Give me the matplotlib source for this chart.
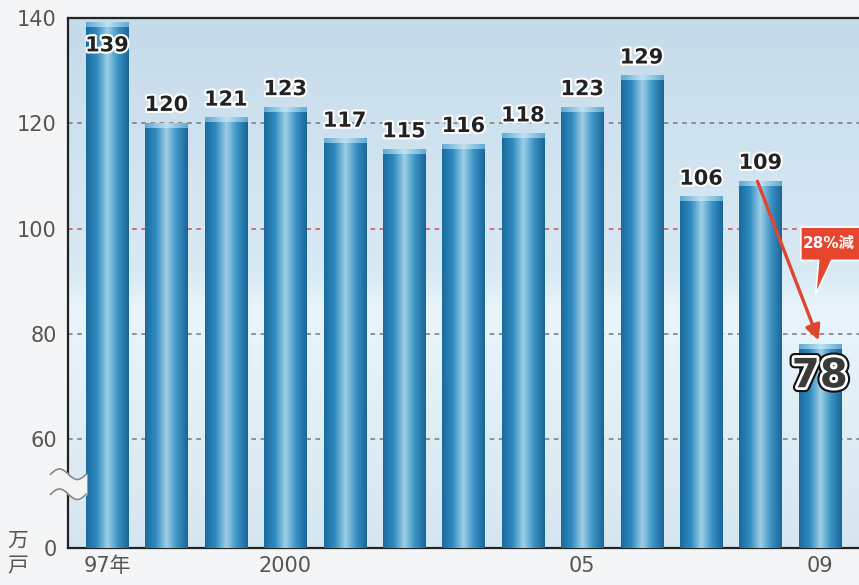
import numpy as np
import matplotlib.pyplot as plt
import matplotlib.patheffects as pe
from matplotlib.colors import LinearSegmentedColormap
from matplotlib.patches import Polygon

plt.rcParams['font.family'] = ['DejaVu Sans', 'Noto Sans CJK JP']

# 新設住宅着工戸数 (万戸)
years = ['97年', '98', '99', '2000', '01', '02', '03', '04', '05', '06', '07', '08', '09']
starts = [139, 120, 121, 123, 117, 115, 116, 118, 123, 129, 106, 109, 78]
shown_years = {0: '97年', 3: '2000', 8: '05', 12: '09'}
ytick_vals = [60, 80, 100, 120, 140]
drop_label = '28%減'

y_floor = 39.4   # axis break: bottom of the axis is labelled 0

fig = plt.figure(figsize=(8.59, 5.85), dpi=100, facecolor='#f3f5f6')
ax = fig.add_axes([68 / 859, 37 / 585, 1 - 68 / 859, 530 / 585])

# background gradient with a pale band in the middle
bg = LinearSegmentedColormap.from_list('bg', [(0, '#d6e6f0'), (0.45, '#e9f5fb'),
                                              (0.52, '#d8eaf4'), (1, '#c6dbea')])
ax.imshow(np.linspace(0, 1, 256).reshape(-1, 1), extent=[0, 1, 0, 1], transform=ax.transAxes,
          cmap=bg, aspect='auto', zorder=0, origin='lower')

x = np.arange(len(starts))
ax.set_ylim(y_floor, 140)

# dashed grid lines behind the bars
for v in ytick_vals[:-1]:
    ax.axhline(v, color='#d05050' if v == 100 else '#777777', lw=1.1,
               ls=(0, (3, 3)), zorder=1)

bars = ax.bar(x, np.array(starts) - y_floor, bottom=y_floor, width=0.71,
              color='#2b83b6', zorder=2)

# cylinder-like shading on each bar
shade = LinearSegmentedColormap.from_list('shade', ['#1b6a9c', '#2f8bc0', '#9fcfe6',
                                                    '#3a93c4', '#1a6597'])
cap = LinearSegmentedColormap.from_list('cap', ['#5fa9d3', '#bfe2f2', '#5fa9d3'])
grad = np.linspace(0, 1, 128).reshape(1, -1)
for b in bars:
    x0, w = b.get_x(), b.get_width()
    top = b.get_y() + b.get_height()
    ax.imshow(grad, extent=[x0, x0 + w, b.get_y(), top], cmap=shade, aspect='auto', zorder=3)
    ax.imshow(grad, extent=[x0, x0 + w, top - 0.8, top], cmap=cap, aspect='auto', zorder=3)
ax.set_xlim(-0.657, 12.66)

# value labels
outline = [pe.Stroke(linewidth=3, foreground='white'), pe.Normal()]
for i, v in enumerate(starts[:-1]):
    yy = v - 4.2 if v > 135 else v + 3.5
    ax.text(i, yy, str(v), ha='center', va='center', fontsize=15, fontweight='bold',
            color='#222222', path_effects=outline, zorder=6)

ax.text(x[-1], starts[-1] - 6, str(starts[-1]), ha='center', va='center',
        fontsize=29, fontweight='bold', color='#3a3a3a', zorder=6,
        path_effects=[pe.Stroke(linewidth=7, foreground='#111111'),
                      pe.Stroke(linewidth=4, foreground='white'), pe.Normal()])

# drop arrow and callout
ax.annotate('', xy=(x[-1] - 0.02, starts[-1] + 0.8), xytext=(x[-2] - 0.05, starts[-2]),
            arrowprops=dict(arrowstyle='-|>,head_width=0.45,head_length=0.9',
                            color='#e0452f', lw=2.4, shrinkA=0, shrinkB=0), zorder=7)
ax.add_patch(Polygon([[11.68, 100.3], [12.8, 100.3], [12.8, 94.0], [12.2, 94.0],
                      [11.93, 87.5], [11.98, 94.0], [11.68, 94.0]],
                     closed=True, facecolor='#e8452e', edgecolor='white', lw=1.2,
                     zorder=8, clip_on=False))
ax.text(11.72, 97.2, drop_label, ha='left', va='center', fontsize=11, fontweight='bold',
        color='white', zorder=9)

# axes styling
ax.spines['right'].set_visible(False)
for s in ['left', 'bottom', 'top']:
    ax.spines[s].set_color('#222222')
    ax.spines[s].set_linewidth(1.6)

ax.set_yticks([y_floor] + ytick_vals)
ax.set_yticklabels(['0'] + [str(v) for v in ytick_vals])
ax.set_xticks(list(shown_years.keys()))
ax.set_xticklabels(list(shown_years.values()))
ax.tick_params(axis='both', length=0, labelsize=15, labelcolor='#555555')
ax.tick_params(axis='y', pad=8)
ax.tick_params(axis='x', pad=6)

# axis break mark
bx = np.linspace(-0.95, -0.35, 60)
wave = 1.0 * np.sin((bx + 0.95) / 0.6 * 2 * np.pi)
ax.fill_between(bx, 49.6 + wave, 53.4 + wave, color='#f3f5f6', zorder=5, clip_on=False)
ax.plot(bx, 49.6 + wave, color='#888888', lw=1.2, zorder=5, clip_on=False)
ax.plot(bx, 53.4 + wave, color='#888888', lw=1.2, zorder=5, clip_on=False)

# unit label
fig.text(18 / 859, 1 - 541 / 585, '万', ha='center', va='center', fontsize=15, color='#555555')
fig.text(18 / 859, 1 - 566 / 585, '戸', ha='center', va='center', fontsize=15, color='#555555')

fig.savefig('out.png', dpi=100, facecolor=fig.get_facecolor())
